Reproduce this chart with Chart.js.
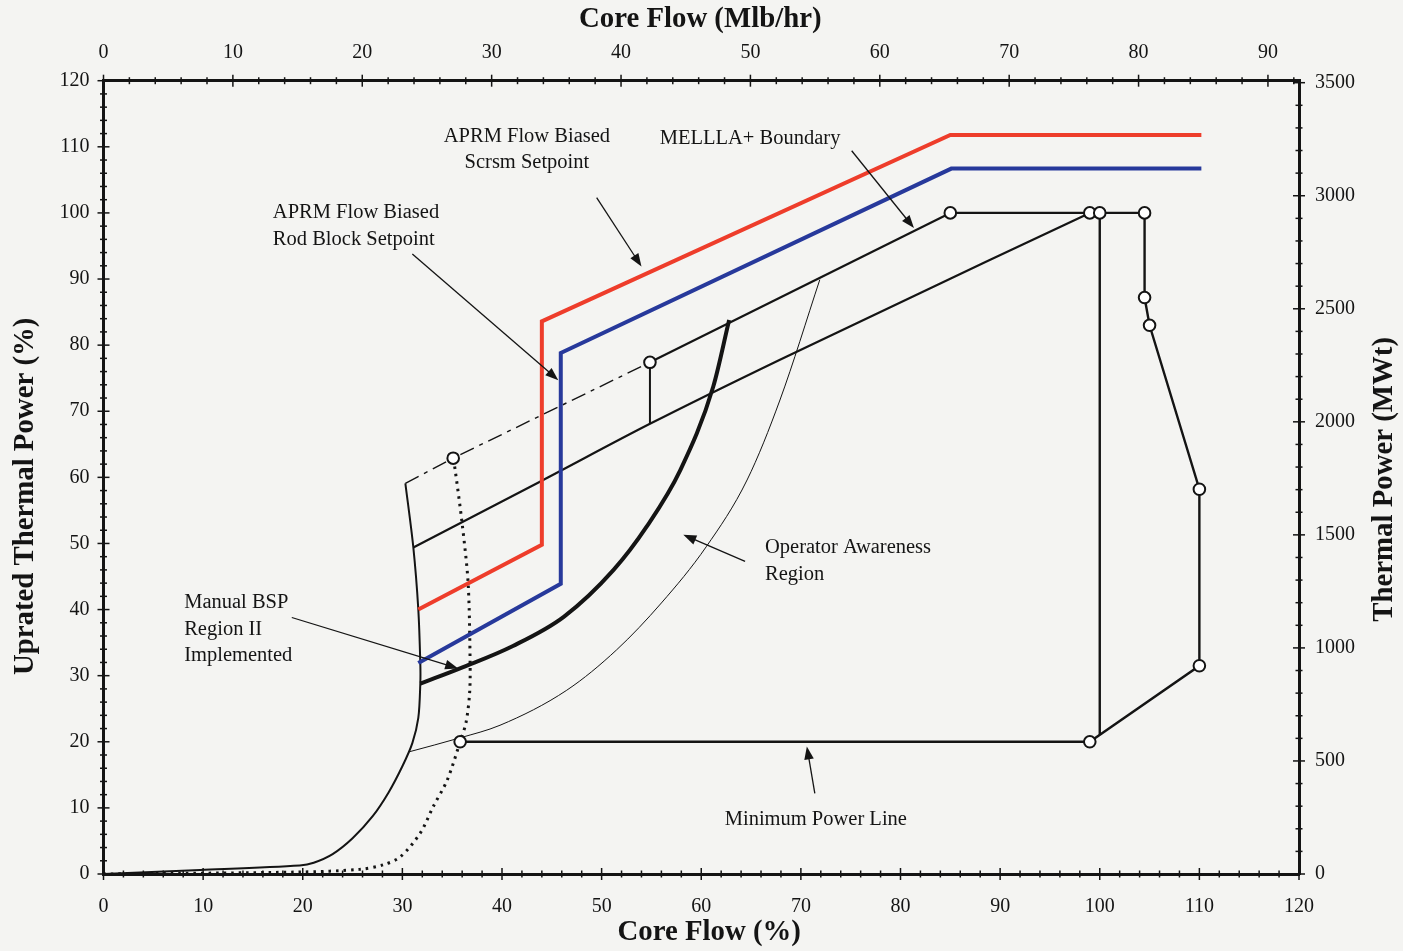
<!DOCTYPE html>
<html>
<head>
<meta charset="utf-8">
<title>Power / Flow Operating Map</title>
<script src="https://cdn.jsdelivr.net/npm/chart.js@4.4.1/dist/chart.umd.min.js"></script>
<style>
  html, body { margin: 0; padding: 0; background: #f4f4f2; }
  #wrap { width: 1403px; height: 951px; }
</style>
</head>
<body>
<div id="wrap"><canvas id="map" width="1403" height="951"></canvas></div>
<script>
// ---- Axis ranges and tick labels ---------------------------------------
const FLOW_PCT_MAX = 120;          // core flow, % rated
const POWER_PCT_MAX = 120;         // thermal power, % uprated
const RATED_FLOW_MLB = 77.0;       // Mlb/hr at 100 % core flow
const RATED_POWER_MWT = 2924;      // MWt at 100 % power
const flowPctLabels  = [0, 10, 20, 30, 40, 50, 60, 70, 80, 90, 100, 110, 120];
const flowMlbLabels  = [0, 10, 20, 30, 40, 50, 60, 70, 80, 90];
const powerPctLabels = [0, 10, 20, 30, 40, 50, 60, 70, 80, 90, 100, 110, 120];
const powerMwtLabels = [0, 500, 1000, 1500, 2000, 2500, 3000, 3500];
const PCT_MINOR_STEP = 2;
const MLB_MINOR_STEP = 2;
const MWT_MINOR_STEP = 100;

// ---- APRM flow biased scram setpoint (%) -------------------------------
const scramFlow  = [31.6, 44.0, 44.0, 85.0, 110.2];
const scramPower = [40.0, 49.8, 83.6, 111.8, 111.8];

// ---- APRM flow biased rod block setpoint (%) ---------------------------
const rodBlockFlow  = [31.6, 45.9, 45.9, 85.1, 110.2];
const rodBlockPower = [31.9, 43.9, 78.8, 106.7, 106.7];

// ---- Manual BSP Region II boundary (%) ---------------------------------
const bspFlow  = [31.8, 36.1, 41.1, 46.2, 51.2, 54.5, 57.9, 61.2, 62.8];
const bspPower = [28.8, 31.3, 34.5, 38.9, 46.0, 52.5, 61.1, 73.7, 83.8];

// ---- Natural circulation line and low-flow boundary (%) ----------------
const natFlow  = [0, 9.7, 19.7, 21.1, 23.0, 25.0, 27.0, 28.6, 30.0, 31.0, 31.6, 31.8, 31.8, 31.6, 31.1, 30.3];
const natPower = [0, 0.6, 1.3, 1.7, 3.0, 5.4, 8.7, 12.3, 16.3, 19.8, 23.6, 28.8, 31.9, 40.0, 49.4, 59.1];

// ---- Minimum pump speed line (%) ---------------------------------------
const pumpFlow  = [0, 19.7, 25.7, 28.1, 29.8, 31.8, 33.1, 34.5, 35.8, 36.4, 36.75, 36.8, 36.6, 36.0, 35.3, 35.1];
const pumpPower = [0, 0.3, 0.7, 1.4, 2.6, 6.2, 10.2, 14.2, 20.0, 23.0, 27.4, 31.9, 44.0, 53.0, 61.1, 62.9];

// ---- MELLLA+ extension below the boundary, dash-dot (%) ----------------
const extFlow  = [30.3, 35.1, 54.85];
const extPower = [59.1, 62.9, 77.4];

// ---- MELLLA+ boundary (%) ----------------------------------------------
const mellaPlusFlow  = [54.85, 85.0];
const mellaPlusPower = [77.4, 100.0];

// ---- Drop from the MELLLA+ corner to the MELLLA line (%) ---------------
const dropFlow  = [54.85, 54.85];
const dropPower = [77.4, 68.1];

// ---- MELLLA boundary (%) -----------------------------------------------
const mellaFlow  = [31.1, 44.0, 54.85, 67.9, 99.0];
const mellaPower = [49.4, 59.5, 68.1, 77.8, 100.0];

// ---- Operator awareness region boundary (%) ----------------------------
const awareFlow  = [30.6, 35.8, 39.8, 46.5, 51.5, 56.0, 60.5, 64.6, 67.9, 71.9];
const awarePower = [18.45, 20.6, 22.5, 27.8, 33.9, 41.0, 49.5, 59.6, 71.7, 89.9];

// ---- Rated power line, increased core flow region, minimum power (%) ---
const outerFlow  = [85.0, 104.5, 104.5, 105.0, 110.0, 110.0, 99.0, 35.8];
const outerPower = [100.0, 100.0, 87.2, 83.0, 58.2, 31.5, 20.0, 20.0];

// ---- 100 % core flow line (%) ------------------------------------------
const ratedFlowLineFlow  = [100.0, 100.0];
const ratedFlowLinePower = [100.0, 21.05];

// ---- State points (%) --------------------------------------------------
const pointFlow  = [35.1, 54.85, 85.0, 99.0, 100.0, 104.5, 104.5, 105.0, 110.0, 110.0, 99.0, 35.8];
const pointPower = [62.9, 77.4, 100.0, 100.0, 100.0, 100.0, 87.2, 83.0, 58.2, 31.5, 20.0, 20.0];

// ---- Callout texts and arrows ------------------------------------------
const calloutTexts = [
  ['APRM Flow Biased', 'Scrsm Setpoint'],
  ['MELLLA+ Boundary'],
  ['APRM Flow Biased', 'Rod Block Setpoint'],
  ['Operator Awareness', 'Region'],
  ['Manual BSP', 'Region II', 'Implemented'],
  ['Minimum Power Line']
];
const calloutAnchorFlow  = [42.5, 64.9, 17.0, 66.4, 8.1, 71.5];
const calloutAnchorPower = [111.6, 111.3, 100.0, 49.3, 41.0, 8.2];
const calloutAlign = ['center', 'center', 'left', 'left', 'left', 'center'];
const arrowFromFlow  = [49.5, 75.1, 31.0, 64.4, 18.9, 71.4];
const arrowFromPower = [102.3, 109.4, 93.8, 47.3, 38.8, 12.2];
const arrowToFlow    = [54.0, 81.35, 45.65, 58.2, 35.6, 70.6];
const arrowToPower   = [91.9, 97.7, 74.7, 51.3, 31.1, 19.3];

// ------------------------------------------------------------------------
const SERIF = "'Liberation Serif', 'Times New Roman', serif";
const INK = '#141414';

function pts(xs, ys) { return xs.map((x, i) => ({ x: x, y: ys[i] })); }

function stepValues(max, step) {
  const out = [];
  for (let k = 0; k * step <= max + 1e-9; k++) out.push(Math.round(k * step * 1000) / 1000);
  return out;
}

function lineSet(label, xs, ys, extra) {
  return Object.assign({
    label: label,
    data: pts(xs, ys),
    borderColor: INK,
    borderWidth: 2,
    pointRadius: 0,
    tension: 0,
    fill: false,
    borderJoinStyle: 'miter',
    xAxisID: 'x',
    yAxisID: 'y'
  }, extra || {});
}

const paper = {
  id: 'paper',
  beforeDraw(chart) {
    const ctx = chart.ctx;
    ctx.save();
    ctx.fillStyle = '#f4f4f2';
    ctx.fillRect(0, 0, chart.width, chart.height);
    ctx.restore();
  }
};

// tick marks that straddle each axis line, long at labelled values
const crossTicks = {
  id: 'crossTicks',
  afterDraw(chart) {
    const ctx = chart.ctx, a = chart.chartArea;
    const axes = [
      { id: 'x', edge: a.bottom, horiz: true, labels: flowPctLabels },
      { id: 'xTop', edge: a.top, horiz: true, labels: flowMlbLabels },
      { id: 'y', edge: a.left, horiz: false, labels: powerPctLabels },
      { id: 'yRight', edge: a.right, horiz: false, labels: powerMwtLabels }
    ];
    ctx.save();
    ctx.strokeStyle = INK;
    ctx.lineWidth = 1.5;
    for (const ax of axes) {
      const s = chart.scales[ax.id];
      for (const t of s.ticks) {
        const p = s.getPixelForValue(t.value);
        const L = ax.labels.includes(t.value) ? 6 : 3.5;
        ctx.beginPath();
        if (ax.horiz) { ctx.moveTo(p, ax.edge - L); ctx.lineTo(p, ax.edge + L); }
        else { ctx.moveTo(ax.edge - L, p); ctx.lineTo(ax.edge + L, p); }
        ctx.stroke();
      }
    }
    ctx.restore();
  }
};

// axis titles
const titles = {
  id: 'titles',
  afterDraw(chart) {
    const ctx = chart.ctx, a = chart.chartArea;
    const cx = (a.left + a.right) / 2, cy = (a.top + a.bottom) / 2;
    ctx.save();
    ctx.fillStyle = INK;
    ctx.font = 'bold 28.8px ' + SERIF;
    ctx.textAlign = 'center';
    ctx.textBaseline = 'middle';
    ctx.fillText('Core Flow (Mlb/hr)', cx - 1, 20);
    ctx.fillText('Core Flow (%)', cx + 8, 933);
    ctx.save();
    ctx.translate(26, cy + 19);
    ctx.rotate(-Math.PI / 2);
    ctx.fillText('Uprated Thermal Power (%)', 0, 0);
    ctx.restore();
    ctx.save();
    ctx.translate(1385, cy + 2);
    ctx.rotate(-Math.PI / 2);
    ctx.fillText('Thermal Power (MWt)', 0, 0);
    ctx.restore();
    ctx.restore();
  }
};

// callout texts with their arrows
const callouts = {
  id: 'callouts',
  afterDatasetsDraw(chart) {
    const ctx = chart.ctx, sx = chart.scales.x, sy = chart.scales.y;
    ctx.save();
    ctx.fillStyle = INK;
    ctx.strokeStyle = INK;
    ctx.font = '20.5px ' + SERIF;
    ctx.textBaseline = 'middle';
    const LH = 26.5;
    calloutTexts.forEach((lines, i) => {
      const x = sx.getPixelForValue(calloutAnchorFlow[i]);
      const y0 = sy.getPixelForValue(calloutAnchorPower[i]);
      ctx.textAlign = calloutAlign[i];
      lines.forEach((t, k) => ctx.fillText(t, x, y0 + k * LH));
    });
    ctx.lineWidth = 1.3;
    for (let i = 0; i < arrowFromFlow.length; i++) {
      const x1 = sx.getPixelForValue(arrowFromFlow[i]), y1 = sy.getPixelForValue(arrowFromPower[i]);
      const x2 = sx.getPixelForValue(arrowToFlow[i]), y2 = sy.getPixelForValue(arrowToPower[i]);
      const ang = Math.atan2(y2 - y1, x2 - x1);
      const head = 13, half = 4.8;
      ctx.beginPath();
      ctx.moveTo(x1, y1);
      ctx.lineTo(x2 - Math.cos(ang) * head * 0.8, y2 - Math.sin(ang) * head * 0.8);
      ctx.stroke();
      ctx.beginPath();
      ctx.moveTo(x2, y2);
      ctx.lineTo(x2 - Math.cos(ang) * head - Math.sin(ang) * half, y2 - Math.sin(ang) * head + Math.cos(ang) * half);
      ctx.lineTo(x2 - Math.cos(ang) * head + Math.sin(ang) * half, y2 - Math.sin(ang) * head - Math.cos(ang) * half);
      ctx.closePath();
      ctx.fill();
    }
    ctx.restore();
  }
};

const tickFont = { family: SERIF, size: 20 };

function axisOptions(position, max, minorStep, labels, padding, size) {
  const horizontal = position === 'top' || position === 'bottom';
  return {
    type: 'linear', position: position, min: 0, max: max,
    afterBuildTicks: s => { s.ticks = stepValues(max, minorStep).map(v => ({ value: v })); },
    ticks: { autoSkip: false, maxRotation: 0, font: tickFont, color: INK, padding: padding,
             callback: v => (labels.includes(v) ? String(v) : '') },
    grid: { drawOnChartArea: false, drawTicks: false },
    border: { color: INK, width: 3 },
    afterFit: s => { if (horizontal) s.height = size; else s.width = size; }
  };
}

new Chart(document.getElementById('map'), {
  type: 'line',
  data: {
    datasets: [
      {
        label: 'State points',
        data: pts(pointFlow, pointPower),
        showLine: false,
        pointStyle: 'circle',
        pointRadius: 5.8,
        pointBorderWidth: 2,
        pointBackgroundColor: '#ffffff',
        pointBorderColor: INK,
        xAxisID: 'x', yAxisID: 'y'
      },
      lineSet('APRM Flow Biased Scram Setpoint', scramFlow, scramPower, { borderColor: '#ee3d2b', borderWidth: 4 }),
      lineSet('APRM Flow Biased Rod Block Setpoint', rodBlockFlow, rodBlockPower, { borderColor: '#27399b', borderWidth: 4 }),
      lineSet('Manual BSP Region II', bspFlow, bspPower, { borderWidth: 4, cubicInterpolationMode: 'monotone' }),
      lineSet('Natural circulation', natFlow, natPower, { borderWidth: 2, tension: 0.3 }),
      lineSet('Minimum pump speed', pumpFlow, pumpPower, { borderWidth: 3, tension: 0.3, borderDash: [2.5, 5] }),
      lineSet('MELLLA+ extension', extFlow, extPower, { borderWidth: 1.4, borderDash: [15, 6, 4, 6] }),
      lineSet('MELLLA+ Boundary', mellaPlusFlow, mellaPlusPower, { borderWidth: 2.2 }),
      lineSet('MELLLA+ drop', dropFlow, dropPower, { borderWidth: 2 }),
      lineSet('MELLLA boundary', mellaFlow, mellaPower, { borderWidth: 2.2, cubicInterpolationMode: 'monotone' }),
      lineSet('Operator Awareness Region', awareFlow, awarePower, { borderWidth: 1, cubicInterpolationMode: 'monotone' }),
      lineSet('Operating domain', outerFlow, outerPower, { borderWidth: 2.4 }),
      lineSet('100% core flow', ratedFlowLineFlow, ratedFlowLinePower, { borderWidth: 2.4 })
    ]
  },
  options: {
    responsive: false,
    animation: false,
    events: [],
    layout: { padding: 0 },
    plugins: { legend: { display: false }, tooltip: { enabled: false } },
    scales: {
      x: axisOptions('bottom', FLOW_PCT_MAX, PCT_MINOR_STEP, flowPctLabels, 21, 77),
      xTop: axisOptions('top', RATED_FLOW_MLB * FLOW_PCT_MAX / 100, MLB_MINOR_STEP, flowMlbLabels, 16, 80.7),
      y: axisOptions('left', POWER_PCT_MAX, PCT_MINOR_STEP, powerPctLabels, 14, 103.5),
      yRight: axisOptions('right', RATED_POWER_MWT * POWER_PCT_MAX / 100, MWT_MINOR_STEP, powerMwtLabels, 16, 104)
    }
  },
  plugins: [paper, crossTicks, titles, callouts]
});
</script>
</body>
</html>
